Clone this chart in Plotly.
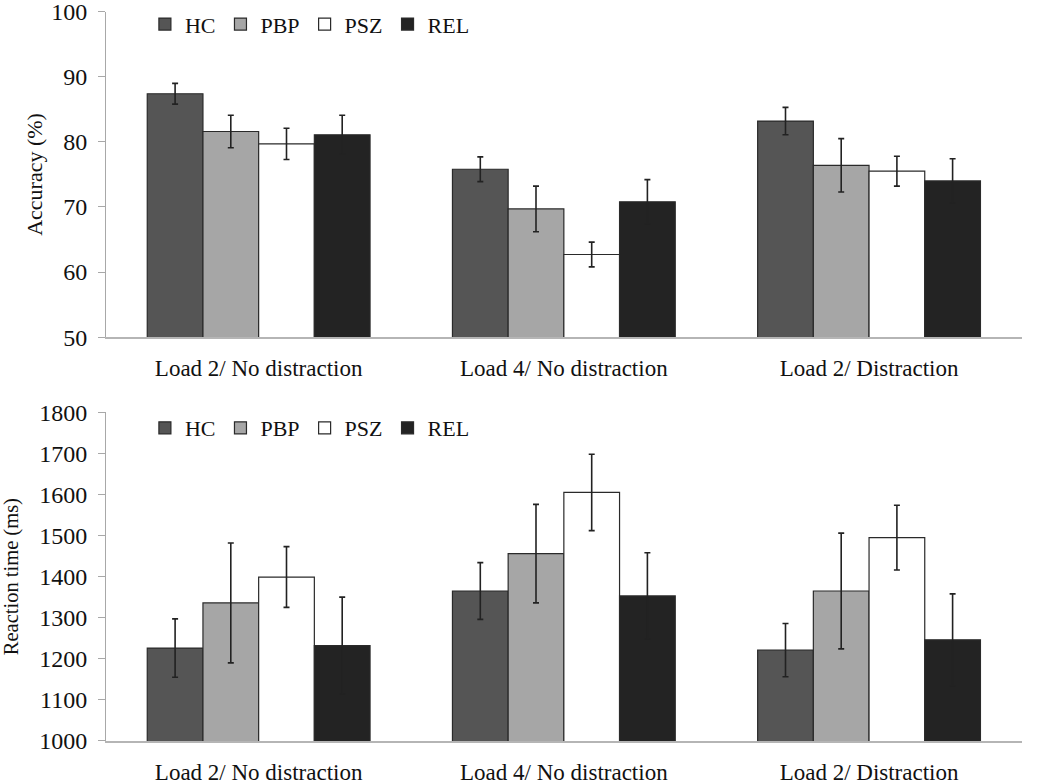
import plotly.graph_objects as go

conditions = ["Load 2/ No distraction", "Load 4/ No distraction", "Load 2/ Distraction"]
groups = ["HC", "PBP", "PSZ", "REL"]
colors = ["#555555", "#a6a6a6", "#ffffff", "#232323"]

acc_mean = {
    "HC": [87.4, 75.8, 83.2],
    "PBP": [81.6, 69.7, 76.4],
    "PSZ": [79.7, 62.7, 75.5],
    "REL": [81.1, 70.8, 74.0],
}
acc_err = {
    "HC": [1.6, 1.9, 2.1],
    "PBP": [2.5, 3.5, 4.1],
    "PSZ": [2.4, 1.9, 2.3],
    "REL": [3.0, 3.4, 3.4],
}
rt_mean = {
    "HC": [1226, 1365, 1221],
    "PBP": [1336, 1456, 1365],
    "PSZ": [1399, 1605, 1495],
    "REL": [1232, 1353, 1246],
}
rt_err = {
    "HC": [71, 69, 65],
    "PBP": [146, 120, 141],
    "PSZ": [74, 93, 79],
    "REL": [118, 105, 112],
}

FONT = "Liberation Serif"
fig = go.Figure()

for g, c in zip(groups, colors):
    fig.add_trace(go.Bar(
        x=conditions, y=acc_mean[g], name=g, marker=dict(color=c, line=dict(color="#2a2a2a", width=1.2)),
        error_y=dict(type="data", array=acc_err[g], color="#222222", thickness=1.6, width=3),
        xaxis="x", yaxis="y", legend="legend",
    ))
for g, c in zip(groups, colors):
    fig.add_trace(go.Bar(
        x=conditions, y=rt_mean[g], name=g, marker=dict(color=c, line=dict(color="#2a2a2a", width=1.2)),
        error_y=dict(type="data", array=rt_err[g], color="#222222", thickness=1.6, width=3),
        xaxis="x2", yaxis="y2", legend="legend2",
    ))

xdom = [0.101, 0.973]
axis_common_x = dict(
    domain=xdom, showline=True, linecolor="#b5b5b5", linewidth=1.5, ticks="", automargin=False,
    tickfont=dict(family=FONT, size=23, color="#111111"), showgrid=False, ticklabelstandoff=10,
    ticklabeloverflow="allow",
)
axis_common_y = dict(
    showline=True, linecolor="#a8a8a8", linewidth=1.2, ticks="outside", ticklen=7, tickcolor="#a8a8a8",
    tickfont=dict(family=FONT, size=24, color="#111111"), showgrid=False, zeroline=False, automargin=False,
    ticklabelstandoff=6, ticklabeloverflow="allow",
)
legend_common = dict(orientation="h", x=0.138, xanchor="left", yanchor="middle",
                     font=dict(family=FONT, size=22), bgcolor="rgba(0,0,0,0)", itemwidth=30)

fig.update_layout(
    width=1050, height=784, autosize=False,
    margin=dict(l=0, r=0, t=0, b=0),
    paper_bgcolor="white", plot_bgcolor="white",
    barmode="group", bargap=0.27, bargroupgap=0,
    font=dict(family=FONT, size=20, color="#111111"),
    xaxis=dict(anchor="y", **axis_common_x),
    yaxis=dict(domain=[0.570, 0.985], range=[50, 100], dtick=10, anchor="x",
               title=dict(text="Accuracy (%)", font=dict(family=FONT, size=22), standoff=2),
               **axis_common_y),
    xaxis2=dict(anchor="y2", **axis_common_x),
    yaxis2=dict(domain=[0.055, 0.474], range=[1000, 1800], dtick=100, anchor="x2",
                title=dict(text="Reaction time (ms)", font=dict(family=FONT, size=20.5), standoff=22),
                **axis_common_y),
    legend=dict(y=0.969, **legend_common),
    legend2=dict(y=0.454, **legend_common),
)

fig.write_html("out.html", post_script="document.body.style.margin='0';",
               config={"displayModeBar": False})
